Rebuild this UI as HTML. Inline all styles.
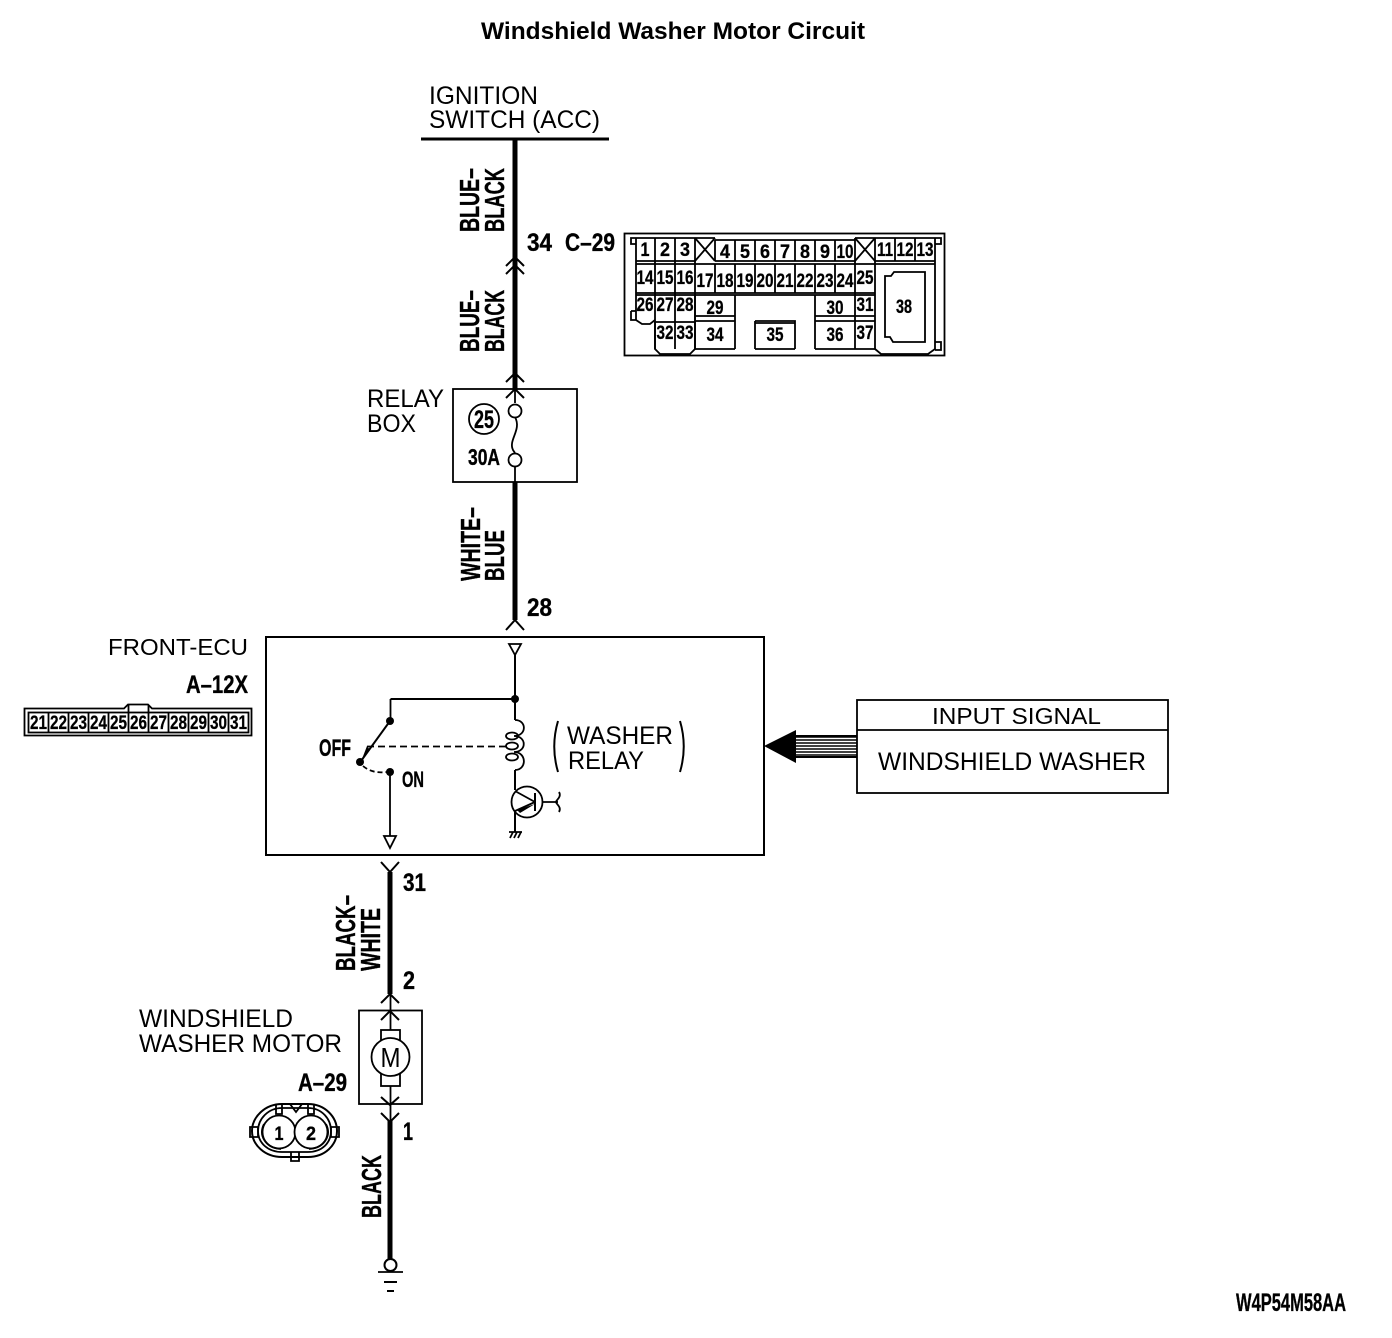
<!DOCTYPE html>
<html><head><meta charset="utf-8"><style>
html,body{margin:0;padding:0;background:#fff}
svg{display:block}
text{font-family:"Liberation Sans",sans-serif;fill:#000}
.b{font-weight:bold;stroke:#000;stroke-width:.35}
.c{font-weight:bold;font-size:19px;text-anchor:middle;stroke:#000;stroke-width:.3}
.l{fill:none;stroke:#000;stroke-width:1.8}
.t{fill:none;stroke:#000;stroke-width:2}
.k{fill:none;stroke:#000;stroke-width:3}
.w{fill:none;stroke:#000;stroke-width:5}
</style></head><body>
<svg width="1392" height="1338" viewBox="0 0 1392 1338" xmlns="http://www.w3.org/2000/svg">
<text x="481" y="39" font-weight="bold" font-size="24" textLength="384" lengthAdjust="spacingAndGlyphs">Windshield Washer Motor Circuit</text>
<text x="429" y="104" font-size="25" textLength="109" lengthAdjust="spacingAndGlyphs">IGNITION</text>
<text x="429" y="128" font-size="25" textLength="171" lengthAdjust="spacingAndGlyphs">SWITCH (ACC)</text>
<path class="k" d="M421 139H609"/>
<path class="w" d="M515 139V390M515 482V620M390 872V994M390 1121V1260"/>
<path class="t" d="M506 266L515 257L524 266M506 274L515 265L524 274M506 382L515 373L524 382M506 398L515 389L524 398M506 630L515 620L524 630M381 862L390 872L399 862M381 1003L390 994L399 1003M381 1020L390 1011L399 1020M381 1097L390 1105L399 1097M381 1113L390 1122L399 1113"/>
<g class="b" font-size="28">
<text transform="translate(479,232) rotate(-90)" textLength="64" lengthAdjust="spacingAndGlyphs">BLUE–</text>
<text transform="translate(504,232) rotate(-90)" textLength="64" lengthAdjust="spacingAndGlyphs">BLACK</text>
<text transform="translate(479,352) rotate(-90)" textLength="62" lengthAdjust="spacingAndGlyphs">BLUE–</text>
<text transform="translate(504,352) rotate(-90)" textLength="62" lengthAdjust="spacingAndGlyphs">BLACK</text>
<text transform="translate(480,581) rotate(-90)" textLength="74" lengthAdjust="spacingAndGlyphs">WHITE–</text>
<text transform="translate(504,581) rotate(-90)" textLength="51" lengthAdjust="spacingAndGlyphs">BLUE</text>
<text transform="translate(355,971) rotate(-90)" textLength="76" lengthAdjust="spacingAndGlyphs">BLACK–</text>
<text transform="translate(380,971) rotate(-90)" textLength="63" lengthAdjust="spacingAndGlyphs">WHITE</text>
<text transform="translate(381,1218) rotate(-90)" textLength="63" lengthAdjust="spacingAndGlyphs">BLACK</text>
</g>
<g class="b" font-size="25">
<text x="527" y="251" textLength="25" lengthAdjust="spacingAndGlyphs">34</text>
<text x="565" y="251" textLength="50" lengthAdjust="spacingAndGlyphs">C–29</text>
<text x="527" y="616" textLength="25" lengthAdjust="spacingAndGlyphs">28</text>
<text x="403" y="891" textLength="23" lengthAdjust="spacingAndGlyphs">31</text>
<text x="403" y="989" textLength="12" lengthAdjust="spacingAndGlyphs">2</text>
<text x="403" y="1140" textLength="10" lengthAdjust="spacingAndGlyphs">1</text>
<text x="186" y="693" textLength="62" lengthAdjust="spacingAndGlyphs">A–12X</text>
<text x="298" y="1091" textLength="49" lengthAdjust="spacingAndGlyphs">A–29</text>
<text x="1236" y="1311" textLength="110" lengthAdjust="spacingAndGlyphs">W4P54M58AA</text>
</g>
<text x="367" y="407" font-size="25" textLength="77" lengthAdjust="spacingAndGlyphs">RELAY</text>
<text x="367" y="432" font-size="25" textLength="49" lengthAdjust="spacingAndGlyphs">BOX</text>
<rect x="453" y="389" width="124" height="93" class="l"/>
<circle cx="484" cy="419" r="15" class="l"/>
<text x="484" y="428" class="b" font-size="25" text-anchor="middle" textLength="20" lengthAdjust="spacingAndGlyphs">25</text>
<text x="468" y="465" class="b" font-size="23" textLength="32" lengthAdjust="spacingAndGlyphs">30A</text>
<path class="l" d="M515 389V403M515 417C522 430 508 440 513 450L515 453M515 467V482"/>
<circle cx="515" cy="411" r="6.5" class="l"/><circle cx="515" cy="460" r="6.5" class="l"/>

<!-- C-29 connector -->
<g class="l">
<rect x="624.500" y="233.500" width="320" height="122"/>
<path d="M636 238H631V244H636M636 238V311M631 311H636M631 311V320H636M636 295V320L642 324H650L655 320M655 322V349L660 354H690L695 349V295M875 349L881 354H928L935 349V238M935 238H941V244H935M935 342H941V350H935"/>
<path d="M636 238H715M855 238H935"/><path d="M715 240H855"/>
<path d="M636 261H695M715 261H855M875 261H935M636 264H695M695 264H875M875 264H935"/>
<path d="M655 238V349M675 238V349M695 238V349M636 293H695M695 293H875M636 295H875"/>
<path d="M655 322H695M695 316H735M815 316H855M695 321H735M815 321H855M855 316H875M855 321H875M695 349H735M755 349H795M815 349H855M855 349H875"/>
<path d="M715 240V261M735 240V261M755 240V261M775 240V261M795 240V261M815 240V261M835 240V261M855 238V349M875 238V349M895 238V261M915 238V261"/>
<path d="M695 238L715 261M715 238L695 261M855 261L875 238M855 238L875 261"/>
<path d="M715 264V293M735 264V293M755 264V293M775 264V293M795 264V293M815 264V293M835 264V293"/>
<path d="M735 295V349M815 295V349M755 321H795V349M755 321V349M755 323H795"/>
<path d="M885 276H891L894 272H925V342H893L890 337H885Z"/>
</g>
<g class="c">
<text x="645" y="256" textLength="9" lengthAdjust="spacingAndGlyphs">1</text><text x="665" y="256" textLength="10" lengthAdjust="spacingAndGlyphs">2</text><text x="685" y="256" textLength="10" lengthAdjust="spacingAndGlyphs">3</text>
<text x="725" y="258" textLength="10" lengthAdjust="spacingAndGlyphs">4</text><text x="745" y="258" textLength="10" lengthAdjust="spacingAndGlyphs">5</text><text x="765" y="258" textLength="10" lengthAdjust="spacingAndGlyphs">6</text><text x="785" y="258" textLength="10" lengthAdjust="spacingAndGlyphs">7</text><text x="805" y="258" textLength="10" lengthAdjust="spacingAndGlyphs">8</text><text x="825" y="258" textLength="10" lengthAdjust="spacingAndGlyphs">9</text><text x="845" y="258" textLength="17" lengthAdjust="spacingAndGlyphs">10</text>
<text x="885" y="256" textLength="16" lengthAdjust="spacingAndGlyphs">11</text><text x="905" y="256" textLength="17" lengthAdjust="spacingAndGlyphs">12</text><text x="925" y="256" textLength="17" lengthAdjust="spacingAndGlyphs">13</text>
<text x="645" y="284" textLength="17" lengthAdjust="spacingAndGlyphs">14</text><text x="665" y="284" textLength="17" lengthAdjust="spacingAndGlyphs">15</text><text x="685" y="284" textLength="17" lengthAdjust="spacingAndGlyphs">16</text>
<text x="705" y="287" textLength="17" lengthAdjust="spacingAndGlyphs">17</text><text x="725" y="287" textLength="17" lengthAdjust="spacingAndGlyphs">18</text><text x="745" y="287" textLength="17" lengthAdjust="spacingAndGlyphs">19</text><text x="765" y="287" textLength="17" lengthAdjust="spacingAndGlyphs">20</text><text x="785" y="287" textLength="17" lengthAdjust="spacingAndGlyphs">21</text><text x="805" y="287" textLength="17" lengthAdjust="spacingAndGlyphs">22</text><text x="825" y="287" textLength="17" lengthAdjust="spacingAndGlyphs">23</text><text x="845" y="287" textLength="17" lengthAdjust="spacingAndGlyphs">24</text>
<text x="865" y="284" textLength="17" lengthAdjust="spacingAndGlyphs">25</text>
<text x="645" y="311" textLength="17" lengthAdjust="spacingAndGlyphs">26</text><text x="665" y="311" textLength="17" lengthAdjust="spacingAndGlyphs">27</text><text x="685" y="311" textLength="17" lengthAdjust="spacingAndGlyphs">28</text>
<text x="715" y="314" textLength="17" lengthAdjust="spacingAndGlyphs">29</text><text x="835" y="314" textLength="17" lengthAdjust="spacingAndGlyphs">30</text><text x="865" y="311" textLength="17" lengthAdjust="spacingAndGlyphs">31</text>
<text x="665" y="339" textLength="17" lengthAdjust="spacingAndGlyphs">32</text><text x="685" y="339" textLength="17" lengthAdjust="spacingAndGlyphs">33</text>
<text x="715" y="341" textLength="17" lengthAdjust="spacingAndGlyphs">34</text><text x="775" y="341" textLength="17" lengthAdjust="spacingAndGlyphs">35</text><text x="835" y="341" textLength="17" lengthAdjust="spacingAndGlyphs">36</text><text x="865" y="339" textLength="17" lengthAdjust="spacingAndGlyphs">37</text>
<text x="904" y="313" textLength="16" lengthAdjust="spacingAndGlyphs">38</text>
</g>

<text x="108" y="655" font-size="23" textLength="140" lengthAdjust="spacingAndGlyphs">FRONT-ECU</text>
<!-- A-12X connector -->
<g class="l">
<path d="M24.500 708.500H124L128 704.500H148L152 708.500H251.500V735.500H24.500Z"/>
<rect x="28.500" y="712.500" width="220" height="20"/>
<path d="M48.500 712V733M68.500 712V733M88.500 712V733M108.500 712V733M128.500 705V733M148.500 705V733M168.500 712V733M188.500 712V733M208.500 712V733M228.500 712V733"/>
</g>
<g class="c">
<text x="38.500" y="729" textLength="17" lengthAdjust="spacingAndGlyphs">21</text><text x="58.500" y="729" textLength="17" lengthAdjust="spacingAndGlyphs">22</text><text x="78.500" y="729" textLength="17" lengthAdjust="spacingAndGlyphs">23</text><text x="98.500" y="729" textLength="17" lengthAdjust="spacingAndGlyphs">24</text><text x="118.500" y="729" textLength="17" lengthAdjust="spacingAndGlyphs">25</text><text x="138.500" y="729" textLength="17" lengthAdjust="spacingAndGlyphs">26</text><text x="158.500" y="729" textLength="17" lengthAdjust="spacingAndGlyphs">27</text><text x="178.500" y="729" textLength="17" lengthAdjust="spacingAndGlyphs">28</text><text x="198.500" y="729" textLength="17" lengthAdjust="spacingAndGlyphs">29</text><text x="218.500" y="729" textLength="17" lengthAdjust="spacingAndGlyphs">30</text><text x="238.500" y="729" textLength="17" lengthAdjust="spacingAndGlyphs">31</text>
</g>

<!-- ECU -->
<rect x="266" y="637" width="498" height="218" class="t"/>
<path class="l" d="M509 644H521L515 655ZM384 836H396L390 848Z"/>
<path class="t" d="M515 655V720M515 699H390.500"/>
<path class="l" d="M390.500 699V721M390 772V836"/>
<path class="t" d="M390 721L361 761"/>
<circle cx="390" cy="721" r="4"/><circle cx="515" cy="699" r="4"/><circle cx="390" cy="772" r="4"/><circle cx="360" cy="762" r="4"/>
<path d="M367 746L362 759L370 750Z"/>
<path class="l" stroke-dasharray="7 4" d="M367 746.500H510"/>
<path class="l" stroke-dasharray="5 3" d="M363 766C370 772 378 773 387 772"/>
<text x="319" y="756" class="b" font-size="24" textLength="32" lengthAdjust="spacingAndGlyphs">OFF</text>
<text x="402" y="787" class="b" font-size="22" textLength="22" lengthAdjust="spacingAndGlyphs">ON</text>
<!-- coil -->
<path class="l" d="M515 720C527 720 527 736 514 736C527 736 527 752 514 752C527 752 527 770 515 770"/>
<ellipse cx="512" cy="736" rx="6" ry="3.500" class="l"/><ellipse cx="512" cy="746" rx="6" ry="3.500" class="l"/><ellipse cx="512" cy="757" rx="6" ry="3.500" class="l"/>
<path class="t" d="M515 770V790M515 810V832"/>
<circle cx="527" cy="802" r="15.500" class="l"/>
<path class="t" d="M535 793V811"/>
<path class="l" d="M515 791L535 802M535 802L515 811M543 802H558M559 792C562 797 556 800 556 802C556 804 562 807 559 812"/>
<path d="M535 804L517 810L520 813Z"/>
<path class="l" d="M509 832H522M510 838L513 832M514 838L517 832M518 838L521 832"/>
<text x="567" y="744" font-size="25" textLength="106" lengthAdjust="spacingAndGlyphs">WASHER</text>
<text x="568" y="769" font-size="25" textLength="76" lengthAdjust="spacingAndGlyphs">RELAY</text>
<path class="t" d="M558 721C553 738 553 755 558 772M680 721C685 738 685 755 680 772"/>

<!-- input signal -->
<rect x="857" y="700" width="311" height="93" class="l"/>
<path class="l" d="M857 730H1168"/>
<text x="932" y="724" font-size="23" textLength="169" lengthAdjust="spacingAndGlyphs">INPUT SIGNAL</text>
<text x="878" y="770" font-size="25" textLength="268" lengthAdjust="spacingAndGlyphs">WINDSHIELD WASHER</text>
<path d="M764 746L796 730V763Z"/>
<g stroke="#000" stroke-width="1.500">
<path d="M796 737H857M796 740H857M796 743H857M796 746H857M796 749H857M796 752H857M796 755H857"/>
<path stroke-width="2" d="M796 736H857M796 757H857"/>
</g>

<!-- motor -->
<text x="139" y="1027" font-size="25" textLength="154" lengthAdjust="spacingAndGlyphs">WINDSHIELD</text>
<text x="139" y="1052" font-size="25" textLength="203" lengthAdjust="spacingAndGlyphs">WASHER MOTOR</text>
<rect x="359" y="1010.500" width="63" height="93.500" class="l"/>
<path class="l" d="M390.500 994V1121"/>
<rect x="381" y="1030" width="19" height="56" fill="#fff" stroke="#000" stroke-width="1.800"/>
<circle cx="390.500" cy="1057" r="19" fill="#fff" stroke="#000" stroke-width="1.800"/>
<text x="390.500" y="1067" font-size="28" text-anchor="middle" textLength="20" lengthAdjust="spacingAndGlyphs">M</text>

<!-- A-29 connector -->
<g class="l">
<path d="M282 1104H308C325 1104 337 1117 337 1131C337 1145 325 1157 308 1157H282C265 1157 252 1145 252 1131C252 1117 265 1104 282 1104Z" stroke-width="2"/>
<path d="M282 1108H308C322 1108 331 1119 331 1131C331 1143 322 1152 308 1152H282C268 1152 258 1143 258 1131C258 1119 268 1108 282 1108Z"/>
<circle cx="279" cy="1132" r="16.500" fill="#fff"/><circle cx="311" cy="1132" r="16.500" fill="#fff"/>
<path d="M264 1124C258 1136 266 1148 281 1149M326 1124C332 1136 324 1148 309 1149"/>
<path d="M276 1104V1114H282V1104M308 1104V1114H314V1104M290 1104H302L296 1112ZM291 1152V1161H299V1152M250 1127H258V1137H250ZM331 1127H339V1137H331Z"/>
</g>
<text x="279" y="1140" class="b" font-size="19" text-anchor="middle" textLength="9" lengthAdjust="spacingAndGlyphs">1</text>
<text x="311" y="1140" class="b" font-size="19" text-anchor="middle" textLength="10" lengthAdjust="spacingAndGlyphs">2</text>

<!-- ground -->
<circle cx="390.500" cy="1265" r="6" fill="#fff" stroke="#000" stroke-width="2"/>
<path class="l" d="M378 1272H403"/>
<path class="t" d="M384 1282H397M387 1291H394"/>
</svg>
</body></html>
